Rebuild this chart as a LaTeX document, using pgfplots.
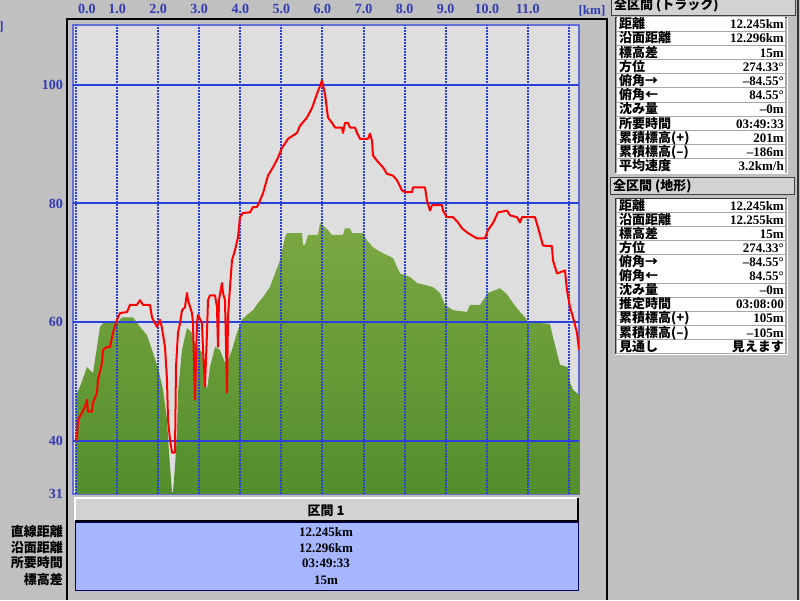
\documentclass[border=0pt]{standalone}
\usepackage{pgfplots}
\pgfplotsset{compat=1.18}
\usepackage{fontspec}
\setmainfont{Liberation Serif}
\newfontfamily\cjk{Noto Sans CJK JP}
\definecolor{bg}{RGB}{192,192,192}
\definecolor{plotbg}{RGB}{222,222,222}
\definecolor{gridblue}{RGB}{40,64,220}
\definecolor{bordblue}{RGB}{100,110,215}
\definecolor{ticblue}{RGB}{50,60,180}
\definecolor{gtop}{RGB}{124,168,66}
\definecolor{gbot}{RGB}{82,142,44}
\definecolor{tblue}{RGB}{166,182,255}
\definecolor{hdr}{RGB}{210,210,210}
\newcommand\fs{\fontsize{13}{15}\selectfont}
\newcommand\trow[3]{%
  \fill[white] (617,-#1+6.6) rectangle (785,-#1-6.6);
  \node[anchor=base west, inner sep=0pt] at (619,-#1-4.6) {\fs\cjk\bfseries #2};
  \node[anchor=base east, inner sep=0pt] at (784,-#1-4.6) {\fs\bfseries #3};
}
\newcommand\brow[2]{%
  \node[anchor=base east, inner sep=0pt] at (63,-#1-4.6) {\fs\cjk\bfseries #2};
}
\begin{document}
\begin{tikzpicture}[x=1pt,y=1pt]
\clip (0,0) rectangle (800,-600);
\fill[bg] (0,0) rectangle (800,-600);
% frames
\draw[black, line width=1.5pt] (67,-600) -- (67,-19) -- (607,-19) -- (607,-600);
\draw[black!80, line width=1.2pt] (798,0) -- (798,-600);
\node[anchor=base, inner sep=0pt, text=ticblue] at (592,-14) {\fontsize{13}{15}\selectfont\bfseries [km]};
\node[anchor=base east, inner sep=0pt, text=ticblue] at (4,-30) {\fontsize{13}{15}\selectfont\bfseries [m]};

\begin{axis}[
  at={(73pt,-494pt)}, anchor=south west,
  width=506pt, height=469pt, scale only axis,
  xmin=-0.073, xmax=12.245, ymin=31, ymax=110.1,
  axis background/.style={fill=plotbg},
  axis line style={draw=bordblue, line width=1.5pt},
  xtick={0,1,2,3,4,5,6,7,8,9,10,11,12},
  xticklabels={\hspace*{22pt}0.0,1.0,2.0,3.0,4.0,5.0,6.0,7.0,8.0,9.0,10.0,11.0,{}},
  xticklabel pos=upper,
  ytick={31,40,60,80,100},
  yticklabels={31,40,60,80,100},
  major tick length=0pt,
  tick style={draw=none},
  /pgf/number format/assume math mode=true,
  ticklabel style={font=\fontsize{14}{16}\selectfont\bfseries, text=ticblue, inner sep=0pt},
  xticklabel style={anchor=base, yshift=11pt},
  yticklabel style={anchor=east, xshift=-10pt},
]
\addplot[draw=none, top color=gtop, bottom color=gbot] coordinates {
(0,47.7)(0.097,49.1)(0.268,52.4)(0.414,51.4)(0.511,55.8)(0.584,59.2)(0.657,59.8)(0.998,59.8)(1.120,60.8)(1.388,60.8)(1.558,59.2)(1.728,57.8)(1.874,54.8)(1.996,52.3)(2.118,48.6)(2.215,43.5)(2.264,38.0)(2.337,31.3)(2.361,31.3)(2.410,35.6)(2.459,41.3)(2.483,48.1)(2.580,55.3)(2.702,59.0)(2.824,58.2)(2.897,56.5)(2.970,55.8)(3.067,54.8)(3.140,50.3)(3.189,48.6)(3.262,52.4)(3.384,55.8)(3.505,55.3)(3.627,53.1)(3.700,53.6)(3.797,55.3)(3.919,58.2)(4.041,60.4)(4.163,61.2)(4.309,62.0)(4.430,63.2)(4.552,64.2)(4.722,65.9)(4.844,68.2)(4.966,70.4)(5.088,74.3)(5.136,75.0)(5.501,75.0)(5.526,73.0)(5.575,73.0)(5.648,74.7)(5.891,74.7)(5.940,76.7)(6.013,76.3)(6.134,75.5)(6.232,74.7)(6.500,74.7)(6.548,75.8)(6.670,75.8)(6.719,75.0)(6.986,75.0)(7.084,73.8)(7.230,72.6)(7.473,71.6)(7.717,70.8)(7.887,68.2)(8.131,67.6)(8.301,66.6)(8.690,65.9)(8.861,64.9)(8.982,62.9)(9.177,62.0)(9.518,61.7)(9.591,62.9)(9.835,62.9)(10.029,64.9)(10.321,65.7)(10.492,64.7)(10.638,63.2)(10.808,61.7)(10.930,60.8)(11.003,60.0)(11.538,59.7)(11.611,57.5)(11.709,54.8)(11.782,52.8)(11.977,52.4)(12.026,49.8)(12.099,48.6)(12.245,47.7)
} \closedcycle;
\pgfplotsinvokeforeach{0,1,2,3,4,5,6,7,8,9,10,11,12}{\draw[gridblue, line width=2pt, dash pattern=on 2pt off 1pt] (axis cs:#1,31) -- (axis cs:#1,110.1);}
\pgfplotsinvokeforeach{40,60,80,100}{\draw[gridblue, line width=2pt] (axis cs:-0.073,#1) -- (axis cs:12.245,#1);}
\addplot[red, line width=2pt, line join=round] coordinates {
(0,40.0)(0.024,40.7)(0.049,43.5)(0.146,44.7)(0.219,45.7)(0.268,46.9)(0.292,44.9)(0.389,44.9)(0.414,46.4)(0.511,48.1)(0.536,50.3)(0.633,53.1)(0.657,55.3)(0.755,55.8)(0.828,55.8)(0.901,58.2)(0.998,60.4)(1.071,61.5)(1.242,61.7)(1.315,62.9)(1.485,62.9)(1.558,63.7)(1.631,62.9)(1.801,62.9)(1.850,60.8)(1.923,59.8)(1.972,59.2)(2.045,60.4)(2.093,59.0)(2.166,55.8)(2.215,50.3)(2.240,43.5)(2.288,40.2)(2.337,38.0)(2.410,38.0)(2.434,52.4)(2.483,58.2)(2.532,59.8)(2.580,62.0)(2.653,62.5)(2.702,64.9)(2.727,63.7)(2.824,61.5)(2.848,59.8)(2.897,46.9)(2.945,59.8)(2.970,61.2)(3.067,59.8)(3.092,55.3)(3.140,49.1)(3.189,58.2)(3.213,63.7)(3.262,64.5)(3.384,64.5)(3.432,62.5)(3.457,55.8)(3.481,63.7)(3.554,66.6)(3.578,64.9)(3.627,63.7)(3.676,48.1)(3.700,60.8)(3.749,65.9)(3.797,70.4)(3.870,72.1)(3.944,74.3)(3.992,77.7)(4.065,78.4)(4.236,78.5)(4.309,79.4)(4.406,79.4)(4.479,80.5)(4.552,81.7)(4.674,84.7)(4.796,86.1)(4.917,87.7)(5.015,89.4)(5.088,90.1)(5.161,90.9)(5.380,91.9)(5.453,93.1)(5.623,94.5)(5.745,96.1)(5.867,98.5)(5.988,100.7)(6.061,98.5)(6.134,94.5)(6.232,93.6)(6.305,92.8)(6.475,92.8)(6.500,91.9)(6.548,93.6)(6.621,93.6)(6.670,92.8)(6.792,92.8)(6.840,91.9)(6.913,90.9)(7.108,90.9)(7.157,91.8)(7.206,90.6)(7.230,88.1)(7.327,87.2)(7.473,86.1)(7.571,85.0)(7.717,84.7)(7.814,83.9)(7.936,82.2)(8.009,81.9)(8.179,81.9)(8.204,82.7)(8.496,82.7)(8.544,80.5)(8.617,78.8)(8.666,79.7)(8.909,79.7)(8.934,78.8)(9.031,77.7)(9.177,77.7)(9.299,76.8)(9.396,75.8)(9.542,75.0)(9.761,74.1)(9.956,74.1)(10.029,75.5)(10.151,76.7)(10.273,78.5)(10.492,78.8)(10.565,78.0)(10.735,77.7)(10.808,76.8)(10.857,77.7)(11.173,77.7)(11.246,76.0)(11.368,72.9)(11.587,72.8)(11.611,70.4)(11.709,68.2)(11.904,68.7)(11.952,65.4)(12.026,62.5)(12.099,60.8)(12.196,58.2)(12.245,55.3)
};
\end{axis}

% bottom section
\fill[hdr] (75,-498) rectangle (578,-521);
\draw[white, line width=1.2pt] (75,-521) -- (75,-498) -- (578,-498);
\draw[black, line width=1.5pt] (75,-521) -- (578,-521) -- (578,-498);
\node[anchor=base, inner sep=0pt] at (326,-515) {\fs\cjk\bfseries 区間 1};
\filldraw[fill=tblue, draw=black!60!blue, line width=1pt] (75,-522) rectangle (578,-590);
\foreach \y/\t in {532/12.245km, 548/12.296km, 563/03:49:33, 580/15m}{
  \node[anchor=base, inner sep=0pt] at (326,-\y-4.6) {\fs\bfseries \t};
}
\brow{532}{直線距離}
\brow{548}{沿面距離}
\brow{563}{所要時間}
\brow{580}{標高差}

% right panel 1
\filldraw[fill=hdr, draw=black!75, line width=1pt] (611,2) rectangle (795,-15);
\node[anchor=base west, inner sep=0pt] at (614,-9) {\fs\cjk\bfseries 全区間 (トラック)};
\fill[black!35] (615,-17) rectangle (787,-173);
\draw[black!80, line width=1pt] (615,-173) -- (615,-17) -- (787,-17);
\draw[white, line width=1pt] (615,-173) -- (787,-173) -- (787,-17);
\trow{24}{距離}{12.245km}
\trow{38.2}{沿面距離}{12.296km}
\trow{52.4}{標高差}{15m}
\trow{66.6}{方位}{274.33°}
\trow{80.8}{俯角→}{–84.55°}
\trow{95}{俯角←}{84.55°}
\trow{109.2}{沈み量}{–0m}
\trow{123.4}{所要時間}{03:49:33}
\trow{137.6}{累積標高(+)}{201m}
\trow{151.8}{累積標高(–)}{–186m}
\trow{166}{平均速度}{3.2km/h}

% right panel 2
\filldraw[fill=hdr, draw=black!75, line width=1pt] (610,-177) rectangle (794,-194);
\node[anchor=base west, inner sep=0pt] at (613,-190) {\fs\cjk\bfseries 全区間 (地形)};
\fill[black!35] (615,-198) rectangle (787,-354);
\draw[black!80, line width=1pt] (615,-354) -- (615,-198) -- (787,-198);
\draw[white, line width=1pt] (615,-354) -- (787,-354) -- (787,-198);
\trow{205.5}{距離}{12.245km}
\trow{219.6}{沿面距離}{12.255km}
\trow{233.7}{標高差}{15m}
\trow{247.8}{方位}{274.33°}
\trow{261.9}{俯角→}{–84.55°}
\trow{276}{俯角←}{84.55°}
\trow{290.1}{沈み量}{–0m}
\trow{304.2}{推定時間}{03:08:00}
\trow{318.3}{累積標高(+)}{105m}
\trow{332.4}{累積標高(–)}{–105m}
\trow{346.5}{見通し}{\cjk 見えます}
\end{tikzpicture}
\end{document}
